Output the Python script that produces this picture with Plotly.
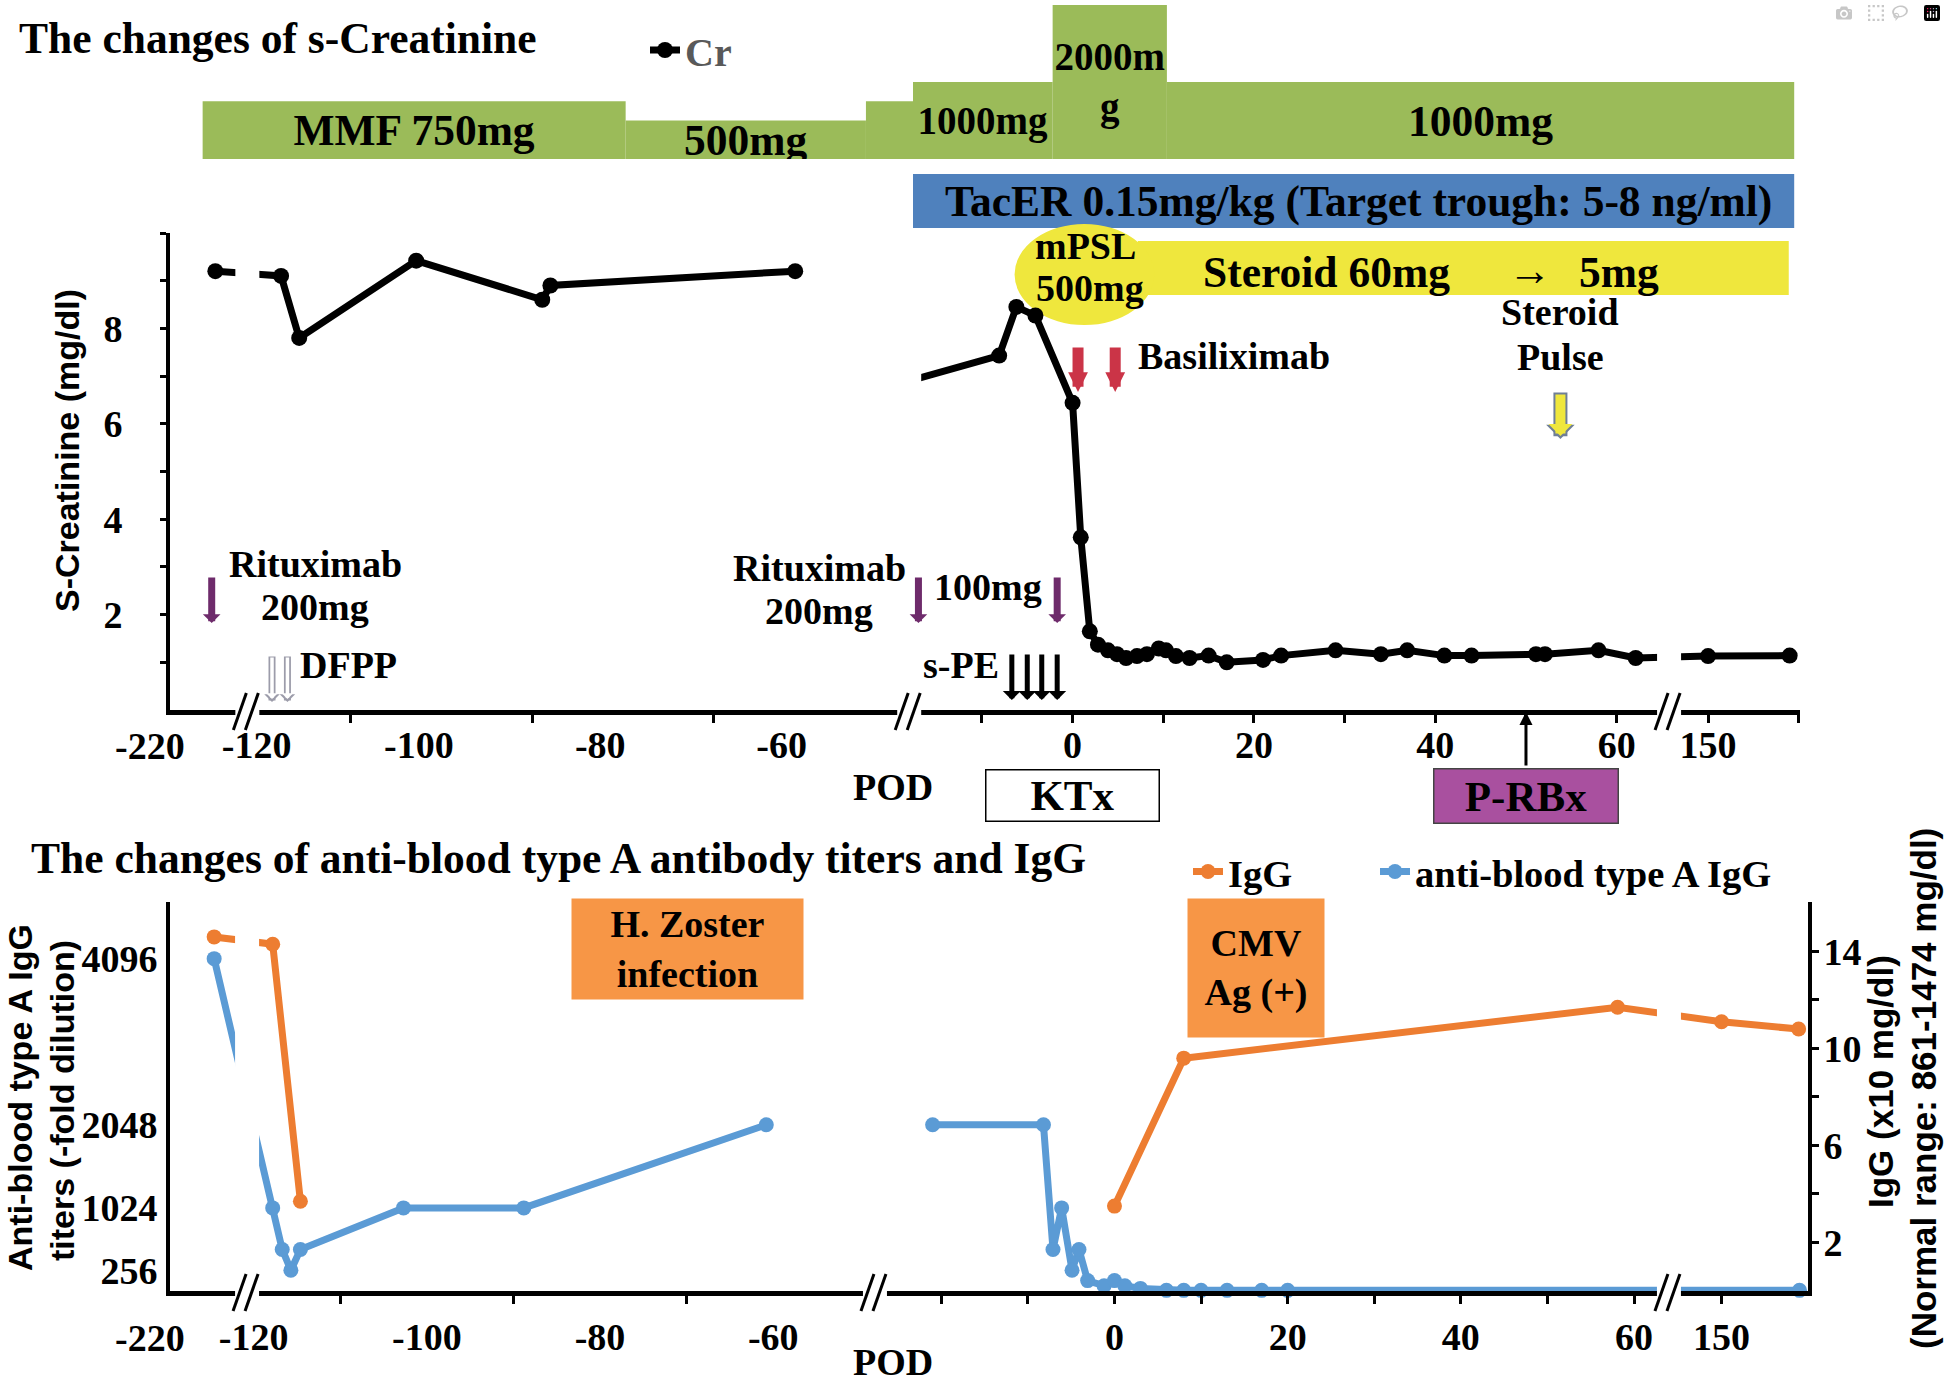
import pandas as pd
import plotly.graph_objects as go

W, H = 1946, 1388
POD0 = pd.Timestamp("2020-01-01")   # post-operative day 0 (kidney transplantation)


def day(d):
    return None if d is None else POD0 + pd.Timedelta(days=d)


def days(seq):
    return [day(d) for d in seq]


def px(x):
    return x / W


def py(y):
    return 1 - y / H


# ---------------------------------------------------------------- data
# serum creatinine (mg/dl) by post-operative day
CR_DAY = [-215.0, -115.2, -113.2, -100.3, -86.4, -85.5, -58.5, None,
          -18.0, -8.1, -6.2, -4.1, 0.0, 0.9, 1.9, 2.8, 3.9, 4.9, 5.9, 7.1, 8.2,
          9.5, 10.3, 11.4, 12.9, 15.0, 17.0, 21.0, 23.0, 29.0, 34.0, 36.9, 41.0,
          44.0, 51.1, 52.1, 58.0, 62.1, 150.0, 159.0]
CR_VAL = [9.2, 9.1, 7.8, 9.42, 8.6, 8.9, 9.2, None,
          6.9, 7.43, 8.45, 8.27, 6.44, 3.62, 1.65, 1.37, 1.25, 1.17, 1.09, 1.13, 1.17,
          1.29, 1.25, 1.13, 1.09, 1.14, 1.0, 1.05, 1.14, 1.25, 1.17, 1.25, 1.14,
          1.14, 1.17, 1.17, 1.25, 1.09, 1.13, 1.14]

# anti-blood type A IgG titer (-fold dilution)
TITER_DAY = [-214.9, -117.8, -116.7, -115.7, -114.6, -102.7, -88.8, -60.8, None,
             -21.0, -8.2, -7.1, -6.1, -4.9, -4.1, -3.1, -1.2, 0.0, 1.2, 3.0,
             6.0, 8.0, 10.0, 13.0, 17.0, 20.0, 159.0]
TITER_VAL = [4096, 1024, 512, 256, 512, 1024, 1024, 2048, None,
             2048, 2048, 512, 1024, 256, 512, 128, 64, 128, 64, 32,
             8, 8, 8, 8, 8, 8, 8]

# IgG (x10 mg/dl)
IGG_DAY = [-214.9, -117.8, -114.6, None, 0.0, 8.0, 58.1, 150.0, 158.9]
IGG_VAL = [14.6, 14.3, 3.7, None, 3.5, 9.6, 11.7, 11.1, 10.8]

# MMF schedule
MMF_START = [-216.4, -77.2, -50.7, -17.6, -2.2, 10.4]
MMF_END = [-77.2, -50.7, -17.6, -2.2, 10.4, 159.5]
MMF_DOSE = [750, 500, 750, 1000, 2000, 1000]
MMF_LABEL = ["MMF 750mg", "500mg", "", "1000mg", "2000m<br>g", "1000mg"]

TACER_PERIOD = (-17.6, 159.5)
STEROID_PERIOD = (7.2, 158.9)
MPSL_PERIOD = (-6.4, 9.0)

# events
RITUXIMAB_DAY = [-215.4, -17.0, -1.7]
DFPP_DAY = [-116.2, -114.5]
SPE_DAY = [-6.7, -5.0, -3.4, -1.7]
BASILIXIMAB_DAY = [0.6, 4.7]
STEROID_PULSE_DAY = [53.8]
KTX_DAY = 0.0
PRBX_DAY = 50.0

# axes
X_TICK_DAYS = [-220, -120, -100, -80, -60, 0, 20, 40, 60, 150]
X_TICK_TEXT = ["-220", "-120", "-100", "-80", "-60", "0", "20", "40", "60", "150"]
TOP_X_TICKMARKS = [-107.5, -87.5, -67.5, -10, 0, 10, 20, 30, 40, 50, 60, 150, 160]
BOT_X_TICKMARKS = [-110, -90, -70, -20, -10, 0, 10, 20, 30, 40, 50, 60, 150]
CR_Y_TICKS = [2, 4, 6, 8]
CR_Y_MINOR = [1, 3, 5, 7, 9, 10]
TITER_Y_TICKS = [256, 1024, 2048, 4096]
IGG_Y_TICKS = [2, 6, 10, 14]
IGG_Y_MINOR = [4, 8, 12]

TOP_RANGE = (-220, 160.14)
TOP_BREAKS = [(-211.8, -119.25), (-46.15, -18.24), (65.34, 145.26)]
BOT_RANGE = (-220, 159.98)
BOT_BREAKS = [(-211.1, -120.76), (-48.25, -27.66), (63.57, 143.46)]

# ---------------------------------------------------------------- style
SERIF = "Liberation Serif"
SANS = "Liberation Sans"
GREEN = "#9BBB59"
TAC_BLUE = "#4F81BD"
YELLOW = "#EFE73D"
ORANGE_BOX = "#F79646"
ORANGE = "#ED7D31"
BLUE = "#5B9BD5"
PURPLE = "#6E2B6B"
RED = "#CB3447"
PRBX = "#A9509F"


def font(size, family=SERIF, color="black"):
    return dict(family=family, size=size, color=color, weight="bold")


fig = go.Figure()

# MMF dose bars (height proportional to dose), drawn from start day over the period
mmf_w = [(e - s) * 86400000 for s, e in zip(MMF_START, MMF_END)]
fig.add_trace(go.Bar(
    x=days(MMF_START), y=MMF_DOSE, width=mmf_w, offset=0, xaxis="x", yaxis="y4",
    marker=dict(color=GREEN, line=dict(width=0)),
    text=MMF_LABEL, textposition="inside", insidetextanchor="middle",
    textangle=0, constraintext="none",
    textfont=dict(family=SERIF, size=[43.5, 43.5, 43.5, 39, 39, 43.5], color="black", weight="bold"),
    showlegend=False, hoverinfo="skip"))

fig.add_trace(go.Scatter(
    x=days(CR_DAY), y=CR_VAL, name="Cr", xaxis="x", yaxis="y",
    mode="lines+markers", line=dict(color="black", width=7),
    marker=dict(color="black", size=16), legend="legend", cliponaxis=False))

fig.add_trace(go.Scatter(
    x=days(IGG_DAY), y=IGG_VAL, name="IgG", xaxis="x2", yaxis="y3",
    mode="lines+markers", line=dict(color=ORANGE, width=7),
    marker=dict(color=ORANGE, size=15), legend="legend2", cliponaxis=False))

fig.add_trace(go.Scatter(
    x=days(TITER_DAY), y=TITER_VAL, name="anti-blood type A IgG", xaxis="x2", yaxis="y2",
    mode="lines+markers", line=dict(color=BLUE, width=7),
    marker=dict(color=BLUE, size=15), legend="legend3", cliponaxis=False))


def label_pos(v, breaks, nudge=1.35):
    for a, b in breaks:
        if a < v < b:
            return b + nudge
    return v


def xaxis_cfg(domain, anchor, rng, breaks, marks, standoff):
    vals, texts = [], []
    for v, t in zip(X_TICK_DAYS, X_TICK_TEXT):
        if v <= rng[0]:
            continue
        vals.append(day(label_pos(v, breaks)))
        texts.append(t)
    return dict(
        type="date", domain=domain, anchor=anchor,
        range=[day(rng[0]), day(rng[1])],
        rangebreaks=[dict(bounds=[day(a), day(b)]) for a, b in breaks],
        showline=True, linecolor="black", linewidth=5, showgrid=False, zeroline=False,
        tickmode="array", tickvals=vals, ticktext=texts, ticks="", tickangle=0,
        tickfont=font(38), ticklabelstandoff=standoff,
        minor=dict(tickmode="array", tickvals=[day(v + 1e-5) for v in marks],
                   ticks="outside", ticklen=8, tickwidth=3, tickcolor="black", showgrid=False),
        fixedrange=True)


layout = dict(
    width=W, height=H, autosize=False,
    margin=dict(l=0, r=0, t=0, b=0),
    paper_bgcolor="white", plot_bgcolor="white",
    showlegend=True,
    xaxis=xaxis_cfg([px(170), px(1800)], "y", TOP_RANGE, TOP_BREAKS, TOP_X_TICKMARKS, -3),
    xaxis2=xaxis_cfg([px(170), px(1808)], "y2", BOT_RANGE, BOT_BREAKS, BOT_X_TICKMARKS, 8),
    yaxis=dict(domain=[py(710), py(233)], anchor="x", range=[0, 10],
               showline=True, linecolor="black", linewidth=4, showgrid=False, zeroline=False,
               tickmode="array", tickvals=CR_Y_TICKS, ticktext=[str(v) for v in CR_Y_TICKS],
               ticks="outside", ticklen=6, tickwidth=3, tickcolor="black",
               tickfont=font(38), ticklabelstandoff=30,
               minor=dict(tickmode="array", tickvals=CR_Y_MINOR, ticks="outside",
                          ticklen=6, tickwidth=3, tickcolor="black", showgrid=False),
               fixedrange=True),
    yaxis2=dict(domain=[py(1291), py(901.5)], anchor="x2", range=[0, 4800],
                showline=True, linecolor="black", linewidth=4, showgrid=False, zeroline=False,
                tickmode="array", tickvals=TITER_Y_TICKS, ticktext=[str(v) for v in TITER_Y_TICKS],
                ticks="", tickfont=font(38), ticklabelstandoff=1, fixedrange=True),
    yaxis3=dict(anchor="x2", overlaying="y2", side="right", range=[0, 16.06],
                showline=True, linecolor="black", linewidth=4, showgrid=False, zeroline=False,
                tickmode="array", tickvals=IGG_Y_TICKS, ticktext=[str(v) for v in IGG_Y_TICKS],
                ticks="outside", ticklen=7, tickwidth=3, tickcolor="black",
                tickfont=font(38), ticklabelstandoff=-3,
                minor=dict(tickmode="array", tickvals=IGG_Y_MINOR, ticks="outside",
                           ticklen=7, tickwidth=3, tickcolor="black", showgrid=False),
                fixedrange=True),
    yaxis4=dict(domain=[py(159), py(5)], anchor="x", range=[0, 2000], visible=False,
                fixedrange=True),
    legend=dict(x=px(645), y=py(50), xanchor="left", yanchor="middle",
                font=font(40, color="#595959"), bgcolor="rgba(0,0,0,0)", itemwidth=30),
    legend2=dict(x=px(1188), y=py(872), xanchor="left", yanchor="middle",
                 font=font(38.5), bgcolor="rgba(0,0,0,0)", itemwidth=30),
    legend3=dict(x=px(1375), y=py(872), xanchor="left", yanchor="middle",
                 font=font(38.5), bgcolor="rgba(0,0,0,0)", itemwidth=30),
)
fig.update_layout(**layout)

shapes = []
ann = []

# treatment bands
shapes.append(dict(type="rect", xref="x", yref="paper", x0=day(TACER_PERIOD[0]), x1=day(TACER_PERIOD[1]),
                   y0=py(228), y1=py(174), fillcolor=TAC_BLUE, line=dict(width=0), layer="below"))
shapes.append(dict(type="rect", xref="x", yref="paper", x0=day(STEROID_PERIOD[0]), x1=day(STEROID_PERIOD[1]),
                   y0=py(295), y1=py(241), fillcolor=YELLOW, line=dict(width=0), layer="below"))
shapes.append(dict(type="circle", xref="x", yref="paper", x0=day(MPSL_PERIOD[0]), x1=day(MPSL_PERIOD[1]),
                   y0=py(325), y1=py(224), fillcolor=YELLOW, line=dict(width=0), layer="below"))


# axis breaks: white gap + double slash
def add_break(xref, b0, axis_y, y_top, y_bottom, shift=0):
    shapes.append(dict(type="rect", xref=xref, yref="paper", xsizemode="pixel", xanchor=day(b0),
                       x0=-10 + shift, x1=14 + shift, y0=py(y_bottom), y1=py(y_top),
                       fillcolor="white", line=dict(width=0), layer="above"))
    for off in (-12, 0):
        shapes.append(dict(type="line", xref=xref, yref="paper", xsizemode="pixel", xanchor=day(b0),
                           x0=off + shift, x1=off + 13 + shift, y0=py(axis_y + 19), y1=py(axis_y - 18),
                           line=dict(color="black", width=3), layer="above"))


add_break("x", TOP_BREAKS[0][0], 711, 250, 717, 1)
add_break("x", TOP_BREAKS[1][0], 711, 250, 717, 0)
add_break("x", TOP_BREAKS[2][0], 711, 300, 717, 2)
add_break("x2", BOT_BREAKS[0][0], 1292, 900, 1298, -2)
add_break("x2", BOT_BREAKS[1][0], 1292, 900, 1298, -2)
add_break("x2", BOT_BREAKS[2][0], 1292, 900, 1298, 2)


def text(s, x, y, size=38, xanchor="center", family=SERIF, angle=0, color="black"):
    ann.append(dict(text=s, x=px(x), y=py(y), xref="paper", yref="paper", xanchor=xanchor,
                    yanchor="middle", showarrow=False, textangle=angle,
                    font=font(size, family, color)))


text("The changes of s-Creatinine", 17, 38, 43.5, "left")
text("TacER 0.15mg/kg (Target trough: 5-8 ng/ml)", 1358, 201, 43.5)
text("mPSL", 1085, 246)
text("500mg", 1090, 288)
text("Steroid 60mg", 1326, 272, 43.5)
text("\u2192", 1530, 270, 43.5)
text("5mg", 1619, 272, 43.5)
text("Basiliximab", 1136, 356, 38, "left")
text("Steroid", 1560, 312)
text("Pulse", 1560, 357)
text("Rituximab", 315, 564)
text("200mg", 315, 607)
text("Rituximab", 819, 568)
text("200mg", 819, 611)
text("100mg", 988, 587)
text("DFPP", 348, 665)
text("s-PE", 961, 665)
text("POD", 893, 787)
text("POD", 893, 1362)
text("The changes of anti-blood type A antibody titers and IgG", 29, 858, 43.5, "left")
text("S-Creatinine (mg/dl)", 67, 451, 34, family=SANS, angle=-90)
text("Anti-blood type A IgG", 20, 1098, 34, family=SANS, angle=-90)
text("titers (-fold dilution)", 62, 1101, 34, family=SANS, angle=-90)
text("IgG (x10 mg/dl)", 1880, 1082, 35, family=SANS, angle=-90)
text("(Normal range: 861-1474 mg/dl)", 1923, 1089, 35, family=SANS, angle=-90)

# first tick label (axis origin) of both panels
ann.append(dict(text=X_TICK_TEXT[0], x=day(X_TICK_DAYS[0]), xref="x", y=py(746), yref="paper",
                xshift=-20, showarrow=False, font=font(38), xanchor="center", yanchor="middle"))
ann.append(dict(text=X_TICK_TEXT[0], x=day(X_TICK_DAYS[0]), xref="x2", y=py(1338), yref="paper",
                xshift=-20, showarrow=False, font=font(38), xanchor="center", yanchor="middle"))

# boxes
ann.append(dict(text="KTx", x=day(KTX_DAY), xref="x", y=py(795.5), yref="paper", showarrow=False,
                width=170, height=48, borderpad=1, bordercolor="black", borderwidth=1.5,
                bgcolor="white", font=font(43), xanchor="center", yanchor="middle"))
ann.append(dict(text="P-RBx", x=day(PRBX_DAY), xref="x", y=py(795.5), yref="paper", showarrow=False,
                width=181, height=51, borderpad=1, bordercolor="#444444", borderwidth=1.5,
                bgcolor=PRBX, font=font(43), xanchor="center", yanchor="middle"))
ann.append(dict(text="H. Zoster<br>infection", x=px(687.5), y=py(949), xref="paper", yref="paper",
                showarrow=False, width=231, height=100, borderpad=0, bgcolor=ORANGE_BOX,
                font=font(38), xanchor="center", yanchor="middle"))
ann.append(dict(text="CMV<br>Ag (+)", x=px(1256), y=py(968), xref="paper", yref="paper",
                showarrow=False, width=136, height=138, borderpad=0, bgcolor=ORANGE_BOX,
                font=font(38), xanchor="center", yanchor="middle"))


def arrow(d, tip, tail, color, width, size, head, xref="x"):
    ann.append(dict(x=day(d), y=py(tip), xref=xref, yref="paper", ax=0, ay=tail - tip,
                    axref="pixel", ayref="pixel", showarrow=True, text="",
                    arrowhead=head, arrowsize=size, arrowwidth=width, arrowcolor=color,
                    standoff=0))


for d in RITUXIMAB_DAY:
    arrow(d, 623, 576, PURPLE, 7, 0.42, 1)
for d in BASILIXIMAB_DAY:
    arrow(d, 392, 346, RED, 11, 0.36, 2)
for d in STEROID_PULSE_DAY:
    arrow(d, 439, 391, "#6F7F96", 14, 0.34, 1)
    arrow(d, 436, 393, YELLOW, 10, 0.4, 1)
for d in DFPP_DAY:
    arrow(d, 702, 655, "#9C9CAA", 7, 0.37, 1)
    arrow(d, 699, 656, "white", 3.5, 0.55, 1)
for d in SPE_DAY:
    arrow(d, 700, 653, "black", 5, 0.6, 1)
arrow(PRBX_DAY, 712, 767, "black", 3, 0.87, 2)

fig.update_layout(shapes=shapes, annotations=ann)

fig.write_html("out.html",
               post_script="document.body.style.margin='0';document.body.style.overflow='hidden';")
